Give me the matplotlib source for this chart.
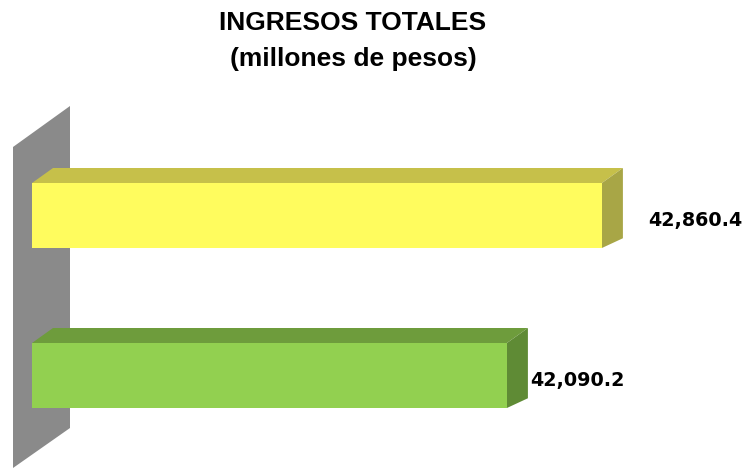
import matplotlib.pyplot as plt
from matplotlib.patches import Polygon, Rectangle

# data
categories = ['2', '1']
values = [42860.4, 42090.2]
labels = ['42,860.4', '42,090.2']
front_colors = ['#FFFC5E', '#92D050']
top_colors = ['#C6C04A', '#6E9C3C']
side_colors = ['#A8A646', '#5F8B35']

W, H = 747, 468
fig = plt.figure(figsize=(W / 100, H / 100), dpi=100)
ax = fig.add_axes([0, 0, 1, 1])

# x scale: pixels per unit, axis starts at base value
s = 95 / 770.2
base = 38240
x0_px = 32
ax.set_xlim(base - x0_px / s, base + (W - x0_px) / s)

# y scale: 160 px between bars
ypos = [1, 0]
ypx = 160
ax.set_ylim(-(H - 375.5) / ypx, 1 + 215.5 / ypx)
ax.axis('off')

# grey back wall (figure pixel coords)
wall = [(13, 147), (70, 106), (70, 428), (13, 468)]
ax.add_patch(Polygon([(x / W, 1 - y / H) for x, y in wall], closed=True,
                     transform=fig.transFigure, facecolor='#8A8A8A',
                     edgecolor='none', zorder=1))

h = 65 / ypx
dx = 21 / s
dy = 15 / ypx
label_offsets = [46, 23]

for y, v, lab, fc, tc, sc, off in zip(ypos, values, labels, front_colors,
                                       top_colors, side_colors, label_offsets):
    ax.add_patch(Rectangle((base, y - h / 2), v - base, h, facecolor=fc,
                           edgecolor='none', zorder=3))
    ax.add_patch(Polygon([(base, y + h / 2), (v, y + h / 2),
                          (v + dx, y + h / 2 + dy), (base + dx, y + h / 2 + dy)],
                         closed=True, facecolor=tc, edgecolor='none', zorder=2))
    ax.add_patch(Polygon([(v, y - h / 2), (v + dx, y - h / 2 + dy * 0.65),
                          (v + dx, y + h / 2 + dy), (v, y + h / 2)],
                         closed=True, facecolor=sc, edgecolor='none', zorder=2))
    ax.annotate(lab, (v, y), xytext=(off * 0.72, -3.5), textcoords='offset points',
                ha='left', va='center', fontsize=13.8, fontweight='bold',
                family='DejaVu Sans', color='black')

fig.text(353 / W, 1 - 23 / H, 'INGRESOS TOTALES', ha='center', va='center',
         fontsize=19, fontweight='bold', family='Liberation Sans')
fig.text(353 / W, 1 - 59 / H, '(millones de pesos)', ha='center', va='center',
         fontsize=19, fontweight='bold', family='Liberation Sans')

fig.savefig('out.png', dpi=100)
